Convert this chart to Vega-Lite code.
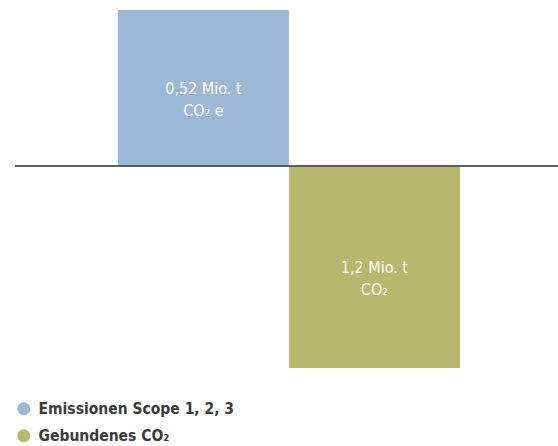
{
  "$schema": "https://vega.github.io/schema/vega-lite/v6.json",
  "width": 543,
  "height": 358,
  "autosize": {"type": "none"},
  "padding": {"left": 15, "top": 10, "right": 0, "bottom": 78},
  "background": "white",
  "config": {
    "view": {"stroke": null},
    "font": "Liberation Sans Narrow, DejaVu Sans Condensed, sans-serif"
  },
  "data": {
    "values": [
      {"kategorie": "Emissionen Scope 1, 2, 3", "hoehe": 156, "beschriftung": ["0,52 Mio. t", "CO₂ e"]},
      {"kategorie": "Gebundenes CO₂", "hoehe": -202, "beschriftung": ["1,2 Mio. t", "CO₂"]}
    ]
  },
  "layer": [
    {
      "mark": {"type": "bar"},
      "encoding": {
        "x": {
          "field": "kategorie",
          "type": "nominal",
          "sort": null,
          "scale": {"paddingInner": 0, "paddingOuter": 0.5877, "align": 0.512},
          "axis": null
        },
        "y": {
          "field": "hoehe",
          "type": "quantitative",
          "scale": {"domain": [-202, 156], "nice": false, "zero": true},
          "axis": null
        },
        "color": {
          "field": "kategorie",
          "type": "nominal",
          "sort": null,
          "scale": {
            "domain": ["Emissionen Scope 1, 2, 3", "Gebundenes CO₂"],
            "range": ["#9bb8d6", "#b6b86b"]
          },
          "legend": {
            "orient": "none",
            "legendX": 1,
            "legendY": 391,
            "title": null,
            "symbolType": "circle",
            "symbolSize": 169,
            "symbolStrokeWidth": 0,
            "labelFontSize": 15.5,
            "labelFontWeight": "bold",
            "labelColor": "#3a3a3a",
            "labelOffset": 7,
            "rowPadding": 10,
            "labelLimit": 400
          }
        }
      }
    },
    {
      "mark": {"type": "rule", "color": "#555555", "strokeWidth": 1.5},
      "encoding": {"y": {"datum": 0, "type": "quantitative"}}
    },
    {
      "transform": [{"calculate": "datum.hoehe / 2", "as": "mitte"}],
      "mark": {"type": "text", "color": "white", "fontSize": 16, "lineHeight": 22, "align": "center", "baseline": "middle", "dy": 1},
      "encoding": {
        "x": {"field": "kategorie", "type": "nominal", "sort": null},
        "y": {"field": "mitte", "type": "quantitative"},
        "text": {"field": "beschriftung"}
      }
    }
  ]
}
